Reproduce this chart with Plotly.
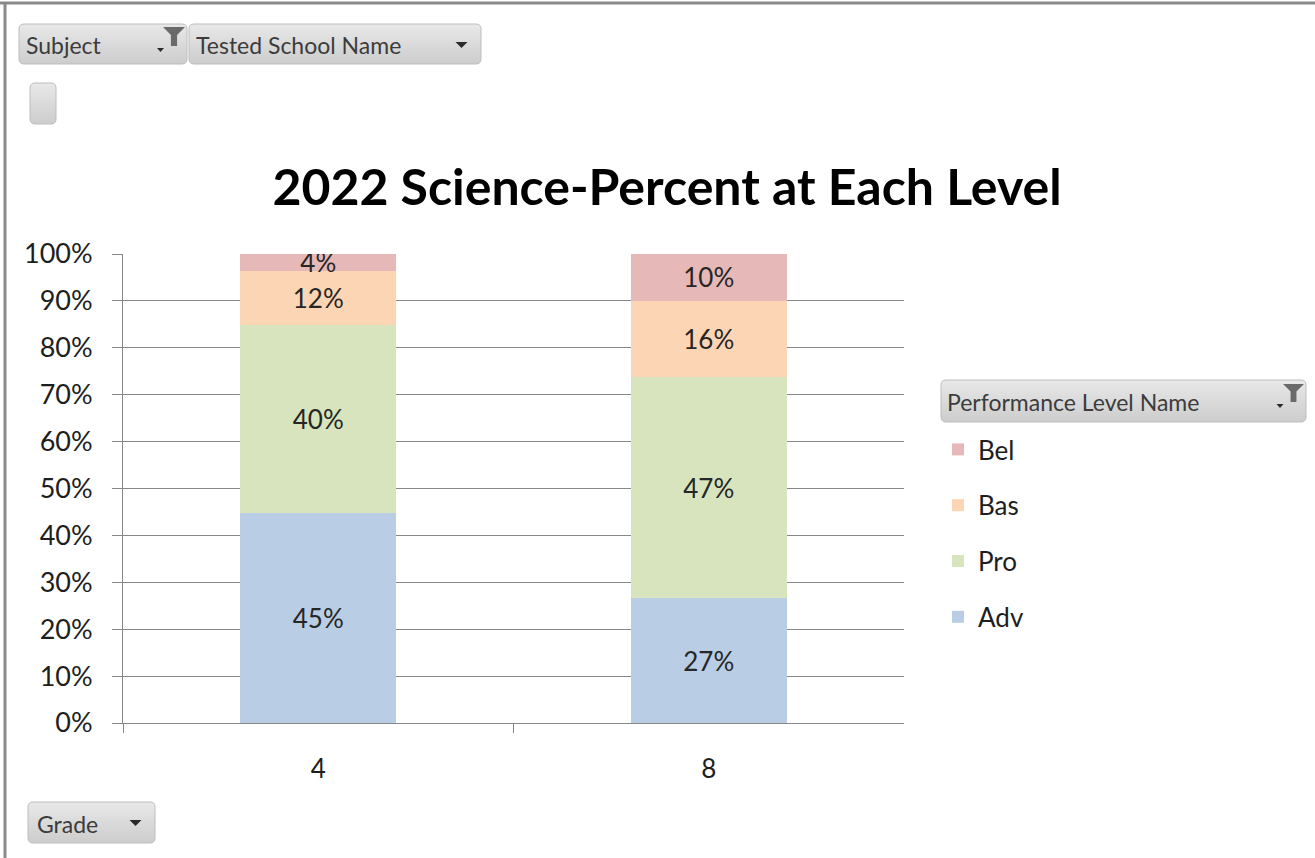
import math

import plotly.graph_objects as go

W, H = 1315, 858

grades = ["4", "8"]
levels = ["Adv", "Pro", "Bas", "Bel"]
adv = [0.447, 0.266]
pro = [0.401, 0.472]
bas = [0.116, 0.162]
bel = [0.036, 0.100]
y_ticks = [0, 0.1, 0.2, 0.3, 0.4, 0.5, 0.6, 0.7, 0.8, 0.9, 1.0]

colors = {"Adv": "#b9cde5", "Pro": "#d7e4bd", "Bas": "#fcd5b5", "Bel": "#e6b9b8"}
series = {"Adv": adv, "Pro": pro, "Bas": bas, "Bel": bel}
legend_rank = {"Bel": 1, "Bas": 2, "Pro": 3, "Adv": 4}

FONT = "Lato"
INK = "#1e1e1e"
GRID = "#888888"
BTN_TXT = "#3c3c3c"


def px(x):
    return x / W


def py(y):
    return 1 - y / H


def rounded_rect(x0, y0, x1, y1, r=5):
    """Rounded rectangle path in paper units from pixel corners."""
    pts = [
        f"M{px(x0 + r)},{py(y0)}",
        f"L{px(x1 - r)},{py(y0)}",
        f"Q{px(x1)},{py(y0)} {px(x1)},{py(y0 + r)}",
        f"L{px(x1)},{py(y1 - r)}",
        f"Q{px(x1)},{py(y1)} {px(x1 - r)},{py(y1)}",
        f"L{px(x0 + r)},{py(y1)}",
        f"Q{px(x0)},{py(y1)} {px(x0)},{py(y1 - r)}",
        f"L{px(x0)},{py(y0 + r)}",
        f"Q{px(x0)},{py(y0)} {px(x0 + r)},{py(y0)}",
        "Z",
    ]
    return " ".join(pts)


def poly(points):
    s = "M" + " L".join(f"{px(x)},{py(y)}" for x, y in points)
    return s + " Z"


def _mix(c0, c1, t):
    a = [int(c0[i:i + 2], 16) for i in (1, 3, 5)]
    b = [int(c1[i:i + 2], 16) for i in (1, 3, 5)]
    return "#" + "".join(f"{round(u + (v - u) * t):02x}" for u, v in zip(a, b))


def button(x0, y0, x1, y1, r=5, top="#e8e8e8", bottom="#cdcdcd"):
    """Pivot-style button: vertical gradient built from thin strips, then an outline."""
    out = []
    n = int(y1 - y0)
    for i in range(n):
        ya, yb = y0 + i, y0 + i + 1
        d = min(i + 0.5, n - i - 0.5)
        inset = r - math.sqrt(max(r * r - (r - d) ** 2, 0)) if d < r else 0
        out.append(dict(type="rect", xref="paper", yref="paper",
                        x0=px(x0 + inset), x1=px(x1 - inset), y0=py(yb), y1=py(ya),
                        fillcolor=_mix(top, bottom, i / max(n - 1, 1)),
                        line=dict(width=0), layer="above"))
    out.append(dict(type="path", xref="paper", yref="paper", path=rounded_rect(x0, y0, x1, y1, r),
                    line=dict(color="#bdbdbd", width=1), layer="above"))
    return out


def arrow(cx, cy, w=11, h=6):
    return dict(type="path", xref="paper", yref="paper",
                path=poly([(cx - w / 2, cy - h / 2), (cx + w / 2, cy - h / 2), (cx, cy + h / 2)]),
                fillcolor="#2a2a2a", line=dict(width=0), layer="above")


def funnel(x0, y0, x1, y1):
    mx = (x0 + x1) / 2
    sw = (x1 - x0) * 0.14
    mid = y0 + (y1 - y0) * 0.42
    return dict(type="path", xref="paper", yref="paper",
                path=poly([(x0, y0), (x1, y0), (mx + sw, mid), (mx + sw, y1),
                           (mx - sw, y1), (mx - sw, mid)]),
                fillcolor="#6a6a6a", line=dict(width=0), layer="above")


fig = go.Figure()
for name in levels:
    fig.add_trace(go.Bar(
        x=grades, y=series[name], name=name, legendgroup=name, legendrank=legend_rank[name],
        marker=dict(color=colors[name], line=dict(width=0)),
        texttemplate="%{y:.0%}", textposition="inside", insidetextanchor="middle",
        textangle=0, constraintext="none",
        textfont=dict(family=FONT, size=26, color="#262626"),
        hovertemplate="Grade %{x}<br>" + name + ": %{y:.0%}<extra></extra>",
    ))

shapes = []
# outer frame (top and left edges)
shapes.append(dict(type="line", xref="paper", yref="paper", x0=0, x1=1, y0=py(3), y1=py(3),
                   line=dict(color="#8a8a8a", width=3)))
shapes.append(dict(type="line", xref="paper", yref="paper", x0=px(5), x1=px(5), y0=0, y1=py(3),
                   line=dict(color="#8a8a8a", width=3)))

# pivot field buttons
shapes += button(19, 24, 187, 64)
shapes += button(189, 24, 481, 64)
shapes += button(30, 83, 56, 124)
shapes += button(28, 802, 155, 843)
shapes += button(941, 380, 1306, 422)
shapes.append(funnel(163, 27, 185, 46))
shapes.append(arrow(160.5, 50, 7, 4))
shapes.append(arrow(461.5, 45, 12, 6))
shapes.append(arrow(135.5, 823, 12, 6))
shapes.append(funnel(1283, 384, 1304, 402))
shapes.append(arrow(1280, 406, 7, 4))

annotations = [
    dict(text="Subject", x=px(24), y=py(45)),
    dict(text="Tested School Name", x=px(194), y=py(45)),
    dict(text="Grade", x=px(35), y=py(824)),
    dict(text="Performance Level Name", x=px(945), y=py(402)),
]
for a in annotations:
    a.update(xref="paper", yref="paper", xanchor="left", yanchor="middle", showarrow=False,
             font=dict(family=FONT, size=23, color=BTN_TXT))

fig.update_layout(
    width=W, height=H,
    margin=dict(l=0, r=0, t=0, b=0),
    paper_bgcolor="white", plot_bgcolor="white",
    font=dict(family=FONT, color=INK),
    barmode="stack", bargap=0.6,
    title=dict(text="<b>2022 Science-Percent at Each Level</b>", x=px(667), xanchor="center",
               y=py(187), yanchor="middle", font=dict(family=FONT, size=50, color="#000000")),
    xaxis=dict(
        domain=[px(123), px(904)], type="category", categoryorder="array", categoryarray=grades,
        showline=True, linecolor=GRID, linewidth=1, showgrid=False,
        ticks="outside", tickson="boundaries", ticklen=9, tickcolor=GRID,
        tickfont=dict(family=FONT, size=26, color=INK), ticklabelstandoff=23,
        automargin=False, fixedrange=True,
    ),
    yaxis=dict(
        domain=[py(723), py(254)], range=[0, 1], tickvals=y_ticks, tickformat=".0%",
        showline=True, linecolor=GRID, linewidth=1, showgrid=True, gridcolor=GRID, gridwidth=1,
        ticks="outside", ticklen=10, tickcolor=GRID, zeroline=False,
        tickfont=dict(family=FONT, size=27, color=INK), ticklabelstandoff=14,
        automargin=False, fixedrange=True,
    ),
    legend=dict(
        x=px(938), xanchor="left", y=py(426), yanchor="top",
        traceorder="grouped", tracegroupgap=19,
        font=dict(family=FONT, size=26, color=INK), bgcolor="rgba(0,0,0,0)",
    ),
    shapes=shapes,
    annotations=annotations,
)

# the page's default body margin would shift the whole chart by 8px
fig.write_html("out.html", config={"displayModeBar": False},
               post_script="document.body.style.margin='0';")
